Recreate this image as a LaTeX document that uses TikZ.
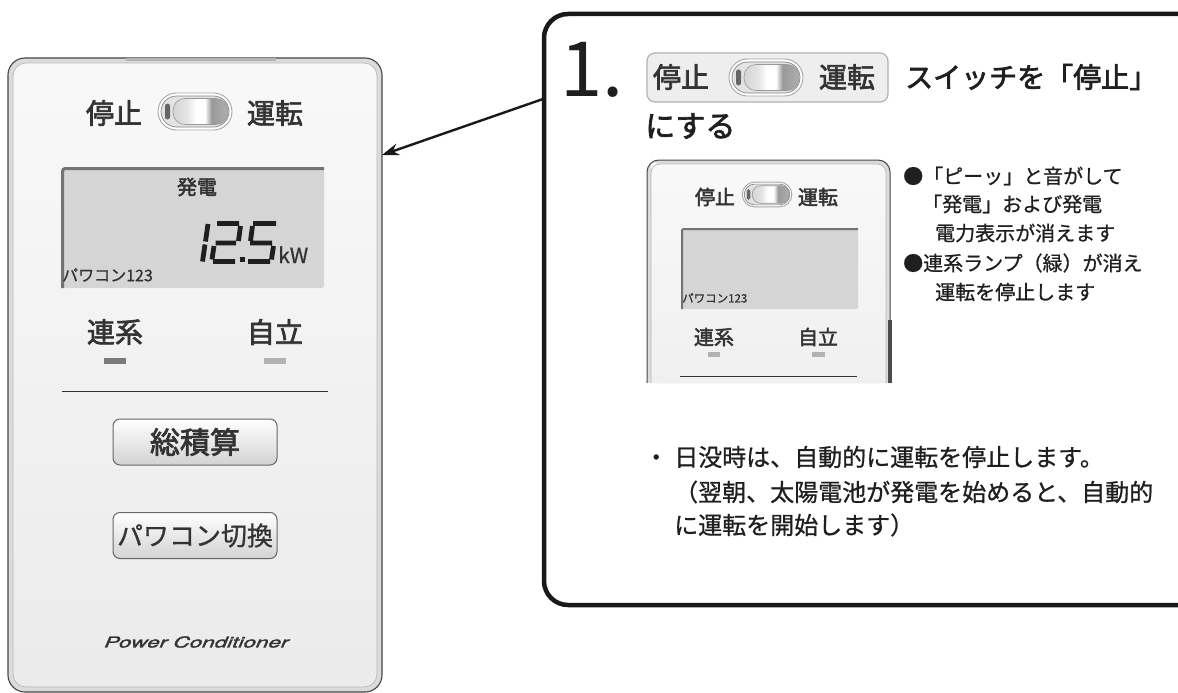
\documentclass[tikz,border=0pt]{standalone}
\usepackage{fontspec}
\setmainfont{Noto Sans CJK JP}
\newfontfamily\jpm{Noto Sans CJK JP}[FakeBold=2.4]
\newfontfamily\jpl{Noto Sans CJK JP}[FakeBold=0.8]
\newfontfamily\jpr{Noto Sans CJK JP}
\newfontfamily\pcfont{TeX Gyre Heros}[FakeSlant=0.28, FakeBold=1.6]
\usetikzlibrary{arrows.meta}
\newcommand\fs[1]{\fontsize{#1}{#1}\selectfont}
\definecolor{txt}{HTML}{333333}
\pgfdeclarehorizontalshading{swsh}{100bp}{color(0bp)=(gray!60); color(38bp)=(gray!20); color(46bp)=(white); color(54bp)=(white); color(60bp)=(gray!80); color(82bp)=(gray!55); color(100bp)=(gray!30)}
\newcommand\swdraw[3]{%
  \begin{scope}[shift={(#1,#2)}]
    \def\s{#3}
    \draw[draw=gray!70, line width=0.9, fill=white, rounded corners={\s*18.5pt}] (-\s*37,-\s*18.5) rectangle (\s*37,\s*18.5);
    \draw[draw=gray!95, line width=0.7, fill=gray!22, rounded corners={\s*15.5pt}] (-\s*34,-\s*15.5) rectangle (\s*34,\s*15.5);
    \fill[black!60, rounded corners={\s*2.5pt}] (-\s*30,-\s*8) rectangle (-\s*25,\s*8);
    \draw[draw=gray!80, line width=0.6, shading=swsh, rounded corners={\s*12pt}] (-\s*22,-\s*13) rectangle (\s*33,\s*13);
  \end{scope}}
\tikzset{
  lbl/.style={text=txt, inner sep=0pt},
  devouter/.style={draw=gray!55!black, line width=1.1, fill=gray!28},
  devinner/.style={draw=gray!55, line width=0.7, top color=gray!5, bottom color=gray!16},
  btn/.style={draw=black!60, line width=1, rounded corners=7, top color=white, bottom color=gray!35, inner sep=0pt, text=txt},
  seg/.style={line width=4.8, black!88},
  lcdedge/.style={draw=black!55, line width=3},
}
\begin{document}
\begin{tikzpicture}[x=1pt, y=-1pt]
\useasboundingbox (0,0) rectangle (1178,693);
\fill[white] (0,0) rectangle (1178,693);

% ---------------- main device ----------------
\draw[devouter, rounded corners=17] (8,58) rectangle (382,692);
\draw[devinner, rounded corners=13] (13,63) rectangle (377,687);
\draw[gray!60, line width=3] (126,59.5) -- (276,59.5);
\coordinate (devR) at (382,155);

\node[lbl, font=\jpm\fs{28}] (stopA) at (114,113) {停止};
\node[lbl, font=\jpm\fs{28}] (runA) at (275,113) {運転};
\swdraw{195}{111.5}{1}

\fill[gray!33, rounded corners=3] (61,167) rectangle (324,288);
\draw[lcdedge, rounded corners=3] (62.5,288) -- (62.5,168.5) -- (324,168.5);
\node[lbl, font=\jpm\fs{20}] (hatsuden) at (197,187) {発電};
% seven-segment 12.5
\draw[seg] (208,224) -- (205.5,241.5) (205,244.5) -- (202.5,261.5);
\draw[seg] (217,223.5) -- (239,223.5) (240.5,226) -- (238.5,241) (215.5,243) -- (236,243) (214,246) -- (212,259.5) (213,261.5) -- (235,261.5);
\fill[black!88] (240,257) rectangle (244.5,262);
\draw[seg] (253,223.5) -- (276,223.5) (252.5,226) -- (250.5,241) (250,243) -- (272,243) (273.5,246) -- (271.5,259.5) (248,261.5) -- (270,261.5);
\node[lbl, font=\jpl\fs{21}, anchor=base west] (kw) at (278,263) {kW};
\node[lbl, font=\jpl\fs{16}, anchor=west] (pwA) at (62,275) {パワコン123};

\node[lbl, font=\jpm\fs{28}] (renkeiA) at (115,332) {連系};
\node[lbl, font=\jpm\fs{28}] (jiritsuA) at (275,332) {自立};
\fill[black!52] (104,358) rectangle (126,364);
\fill[gray!60] (264,358) rectangle (286,364);
\draw[black!80, line width=1] (62,391) -- (328,391);

\node[btn, font=\jpm\fs{30}, minimum width=164pt, minimum height=46pt] (sousekisan) at (195,442) {総積算};
\node[btn, font=\jpl\fs{26}, minimum width=164pt, minimum height=46pt] (kirikae) at (195,535.5) {パワコン切換};
\node[lbl, font=\pcfont\fs{15}, text=black!80] (pc) at (195,642) {\scalebox{1.5}[1]{Power Conditioner}};

% ---------------- callout ----------------
\draw[line width=4.5, black!90, rounded corners=24] (544,14) rectangle (1205,605);
\coordinate (calloutL) at (543,99);
\draw[line width=2.4, black!90, -{Stealth[length=17pt, width=12pt]}] (calloutL) -- (devR);

\node[lbl, font=\jpr\fs{76}, anchor=base west, text=black!88] (one) at (560,96) {1.};
\draw[draw=gray!60, line width=1.2, fill=gray!13, rounded corners=8] (647,53) rectangle (888,102);
\node[lbl, font=\jpm\fs{28}] (stopB) at (681,77) {停止};
\swdraw{766}{77.5}{1}
\node[lbl, font=\jpm\fs{28}] (runB) at (847,77) {運転};
\node[lbl, font=\jpm\fs{28}, anchor=west, text=black!88] (switchtxt) at (905,77) {スイッチを「停止」};
\node[lbl, font=\jpm\fs{30}, anchor=west, text=black!88] (nisuru) at (645,126) {にする};

% small device
\fill[gray!28, rounded corners=12] (647,383) -- (647,160) -- (890,160) -- (890,383) -- cycle;
\fill[gray!28] (647,370) rectangle (890,383);
\path[top color=gray!5, bottom color=gray!12] (651,383) -- (651,164) [rounded corners=9] -- (651,164) -- (886,164) [sharp corners] -- (886,383) -- cycle;
\draw[gray!55!black, line width=1, rounded corners=12] (647,383) -- (647,160) -- (890,160) -- (890,383);
\draw[gray!55, line width=0.7, rounded corners=9] (651,383) -- (651,164) -- (886,164) -- (886,383);
\fill[black!70] (888,320) rectangle (891.5,383);

\node[lbl, font=\jpm\fs{20}] (stopC) at (715,197) {停止};
\swdraw{767}{194.5}{0.67}
\node[lbl, font=\jpm\fs{20}] (runC) at (818,197) {運転};
\fill[gray!33, rounded corners=2] (681,228) rectangle (858,309);
\draw[black!55, line width=2, rounded corners=2] (682,309) -- (682,229) -- (858,229);
\node[lbl, font=\jpl\fs{11.5}, anchor=west] (pwC) at (682,298) {パワコン123};
\node[lbl, font=\jpm\fs{20}] (renkeiC) at (714,337) {連系};
\node[lbl, font=\jpm\fs{20}] (jiritsuC) at (818,337) {自立};
\fill[gray!60] (708,352) rectangle (720,356.5);
\fill[gray!60] (812,352) rectangle (825,356.5);
\draw[black!80, line width=0.9] (680,376) -- (857,376);

% bullets
\node[lbl, font=\jpl\fs{20}, anchor=west, text=black!88] (b1) at (903,176) {●「ピーッ」と音がして};
\node[lbl, font=\jpl\fs{20}, anchor=west, text=black!88] (b2) at (922,204) {「発電」および発電};
\node[lbl, font=\jpl\fs{20}, anchor=west, text=black!88] (b3) at (935,233) {電力表示が消えます};
\node[lbl, font=\jpl\fs{20}, anchor=west, text=black!88] (b4) at (903,263) {●連系ランプ（緑）が消え};
\node[lbl, font=\jpl\fs{20}, anchor=west, text=black!88] (b5) at (935,292) {運転を停止します};

% notes
\node[lbl, font=\jpl\fs{24}, anchor=west, text=black!88] (n1) at (644,457) {・\hspace{6pt}日没時は、自動的に運転を停止します。};
\node[lbl, font=\jpl\fs{24}, anchor=west, text=black!88] (n2) at (674,492) {（翌朝、太陽電池が発電を始めると、自動的};
\node[lbl, font=\jpl\fs{24}, anchor=west, text=black!88] (n3) at (674,525) {に運転を開始します）};
\end{tikzpicture}
\end{document}
